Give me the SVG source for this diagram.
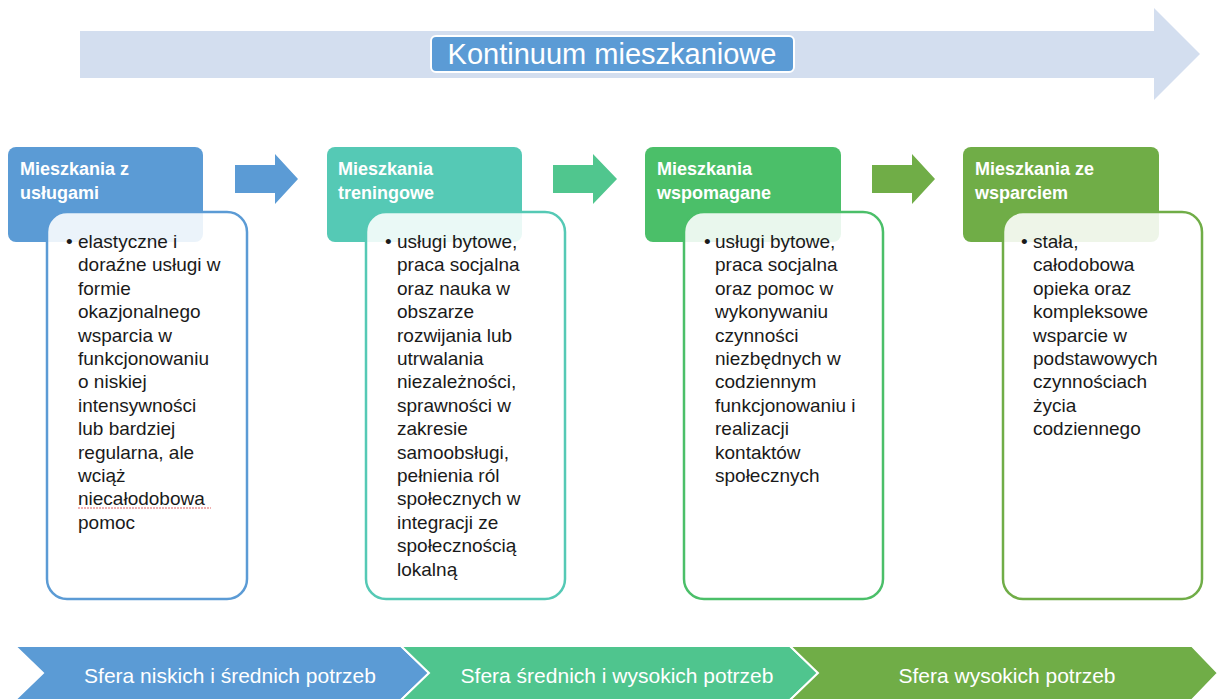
<svg xmlns="http://www.w3.org/2000/svg" width="1217" height="700" viewBox="0 0 1217 700">
<style>
.hdr{font-family:"Liberation Sans",Arial,sans-serif;font-weight:bold;font-size:18px;fill:#ffffff}
.body{font-family:"Liberation Sans",Arial,sans-serif;font-size:19px;fill:#1a1a1a}
.sfera{font-family:"Liberation Sans",Arial,sans-serif;font-size:21px;fill:#ffffff;text-anchor:middle}
.title{font-family:"Liberation Sans",Arial,sans-serif;font-size:29px;fill:#ffffff;text-anchor:middle}
.card{fill:#ffffff;fill-opacity:0.88;stroke-width:2.5}
</style>
<rect width="1217" height="700" fill="#ffffff"/>
<g id="continuum">
<polygon points="80,31 1154,31 1154,8 1200,54 1154,100 1154,78 80,78" fill="#d3deef"/>
<rect x="431" y="36" width="363" height="36" rx="5" fill="#5b9bd5" stroke="#ffffff" stroke-width="2"/>
<text class="title" x="612" y="64">Kontinuum mieszkaniowe</text>
</g>
<g id="connectors">
<polygon points="235,165 275,165 275,154 298,179 275,204 275,193 235,193" fill="#5b9bd5"/>
<polygon points="553,165 593,165 593,154 617,179 593,204 593,193 553,193" fill="#50c68e"/>
<polygon points="872,165 912,165 912,154 935,179 912,204 912,193 872,193" fill="#70ad47"/>
</g>
<g id="node1">
<rect x="8" y="147" width="195" height="95" rx="8" fill="#5b9bd5"/>
<text class="hdr" x="20" y="175">Mieszkania z</text>
<text class="hdr" x="20" y="199">usługami</text>
<rect class="card" x="47" y="212" width="200" height="387" rx="20" stroke="#5b9bd5"/>
<text class="body" x="66" y="248">•</text>
<text class="body"><tspan x="78" y="248">elastyczne i</tspan><tspan x="78" y="271.4">doraźne usługi w</tspan><tspan x="78" y="294.8">formie</tspan><tspan x="78" y="318.2">okazjonalnego</tspan><tspan x="78" y="341.6">wsparcia w</tspan><tspan x="78" y="365">funkcjonowaniu</tspan><tspan x="78" y="388.4">o niskiej</tspan><tspan x="78" y="411.8">intensywności</tspan><tspan x="78" y="435.2">lub bardziej</tspan><tspan x="78" y="458.6">regularna, ale</tspan><tspan x="78" y="482">wciąż</tspan><tspan x="78" y="505.4">niecałodobowa</tspan><tspan x="78" y="528.8">pomoc</tspan></text>
<line x1="78" y1="508" x2="211" y2="508" stroke="#e06060" stroke-width="1" stroke-dasharray="2,1"/>
</g>
<g id="node2">
<rect x="327" y="147" width="195" height="95" rx="8" fill="#55c9b5"/>
<text class="hdr" x="338" y="175">Mieszkania</text>
<text class="hdr" x="338" y="199">treningowe</text>
<rect class="card" x="366" y="212" width="199" height="387" rx="20" stroke="#55c9b5"/>
<text class="body" x="385" y="248">•</text>
<text class="body"><tspan x="397" y="248">usługi bytowe,</tspan><tspan x="397" y="271.4">praca socjalna</tspan><tspan x="397" y="294.8">oraz nauka w</tspan><tspan x="397" y="318.2">obszarze</tspan><tspan x="397" y="341.6">rozwijania lub</tspan><tspan x="397" y="365">utrwalania</tspan><tspan x="397" y="388.4">niezależności,</tspan><tspan x="397" y="411.8">sprawności w</tspan><tspan x="397" y="435.2">zakresie</tspan><tspan x="397" y="458.6">samoobsługi,</tspan><tspan x="397" y="482">pełnienia ról</tspan><tspan x="397" y="505.4">społecznych w</tspan><tspan x="397" y="528.8">integracji ze</tspan><tspan x="397" y="552.2">społecznością</tspan><tspan x="397" y="575.6">lokalną</tspan></text>
</g>
<g id="node3">
<rect x="645" y="147" width="196" height="95" rx="8" fill="#4bbf69"/>
<text class="hdr" x="657" y="175">Mieszkania</text>
<text class="hdr" x="657" y="199">wspomagane</text>
<rect class="card" x="684" y="212" width="199" height="387" rx="20" stroke="#4bbf69"/>
<text class="body" x="704" y="248">•</text>
<text class="body"><tspan x="715" y="248">usługi bytowe,</tspan><tspan x="715" y="271.4">praca socjalna</tspan><tspan x="715" y="294.8">oraz pomoc w</tspan><tspan x="715" y="318.2">wykonywaniu</tspan><tspan x="715" y="341.6">czynności</tspan><tspan x="715" y="365">niezbędnych w</tspan><tspan x="715" y="388.4">codziennym</tspan><tspan x="715" y="411.8">funkcjonowaniu i</tspan><tspan x="715" y="435.2">realizacji</tspan><tspan x="715" y="458.6">kontaktów</tspan><tspan x="715" y="482">społecznych</tspan></text>
</g>
<g id="node4">
<rect x="963" y="147" width="196" height="95" rx="8" fill="#70ad47"/>
<text class="hdr" x="975" y="175">Mieszkania ze</text>
<text class="hdr" x="975" y="199">wsparciem</text>
<rect class="card" x="1003" y="212" width="199" height="387" rx="20" stroke="#70ad47"/>
<text class="body" x="1021" y="248">•</text>
<text class="body"><tspan x="1033" y="248">stała,</tspan><tspan x="1033" y="271.4">całodobowa</tspan><tspan x="1033" y="294.8">opieka oraz</tspan><tspan x="1033" y="318.2">kompleksowe</tspan><tspan x="1033" y="341.6">wsparcie w</tspan><tspan x="1033" y="365">podstawowych</tspan><tspan x="1033" y="388.4">czynnościach</tspan><tspan x="1033" y="411.8">życia</tspan><tspan x="1033" y="435.2">codziennego</tspan></text>
</g>
<g id="sfera1">
<polygon points="15,646 401,646 429,673 401,700 15,700 43,673" fill="#5b9bd5" stroke="#ffffff" stroke-width="2"/>
<text class="sfera" x="230" y="683">Sfera niskich i średnich potrzeb</text>
</g>
<g id="sfera2">
<polygon points="401,646 790,646 818,673 790,700 401,700 429,673" fill="#4fc58e" stroke="#ffffff" stroke-width="2"/>
<text class="sfera" x="617" y="683">Sfera średnich i wysokich potrzeb</text>
</g>
<g id="sfera3">
<polygon points="790,646 1192,646 1218,673 1192,700 790,700 818,673" fill="#70ad47" stroke="#ffffff" stroke-width="2"/>
<text class="sfera" x="1007" y="683">Sfera wysokich potrzeb</text>
</g>
</svg>
